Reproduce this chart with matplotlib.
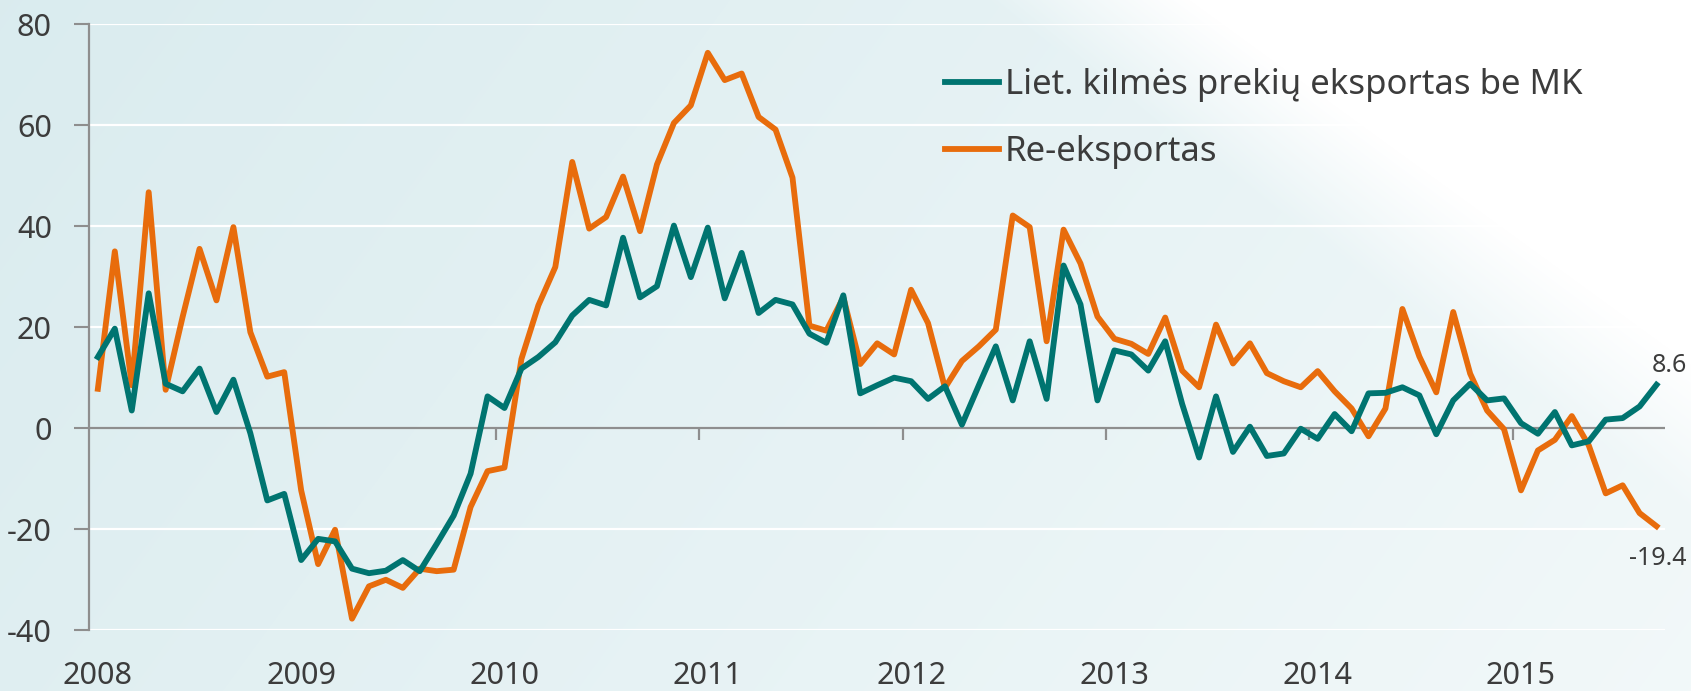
import numpy as np
import matplotlib
matplotlib.use("Agg")
import matplotlib.pyplot as plt

plt.rcParams['font.family'] = ['Noto Sans', 'DejaVu Sans']
plt.rcParams['axes.unicode_minus'] = False

# monthly data, 2008-01 .. 2015-09 (annual change, %)
lt_kilmes = [14.1, 19.7, 3.5, 26.7, 8.8, 7.3, 11.8, 3.2, 9.6, -1.0, -14.3, -13.0,
             -26.1, -21.9, -22.4, -27.8, -28.7, -28.2, -26.1, -28.3, -22.9, -17.3, -9.0, 6.3,
             4.0, 11.8, 14.1, 17.0, 22.3, 25.4, 24.3, 37.7, 25.9, 28.1, 40.1, 29.9,
             39.7, 25.7, 34.7, 22.8, 25.4, 24.5, 18.7, 16.9, 26.3, 6.9, 8.5, 10.0,
             9.3, 5.8, 8.3, 0.7, 8.5, 16.2, 5.5, 17.2, 5.8, 32.2, 24.5, 5.5,
             15.4, 14.6, 11.4, 17.2, 4.8, -5.8, 6.3, -4.7, 0.3, -5.5, -5.0, -0.1,
             -2.1, 2.8, -0.6, 6.9, 7.0, 8.1, 6.5, -1.2, 5.5, 8.8, 5.5, 5.9,
             1.0, -1.1, 3.2, -3.4, -2.6, 1.7, 2.0, 4.3, 8.6]
re_eksportas = [7.8, 35.0, 8.5, 46.7, 7.6, 22.0, 35.5, 25.3, 39.8, 19.0, 10.2, 11.1,
                -12.3, -26.9, -20.1, -37.7, -31.3, -30.0, -31.6, -27.8, -28.3, -28.0, -15.6, -8.5,
                -7.8, 13.7, 24.3, 31.9, 52.7, 39.5, 41.8, 49.8, 39.0, 52.2, 60.4, 63.9,
                74.3, 68.9, 70.2, 61.6, 59.1, 49.6, 20.3, 19.3, 25.9, 12.7, 16.8, 14.6,
                27.4, 20.8, 8.0, 13.3, 16.2, 19.5, 42.1, 39.8, 17.2, 39.3, 32.6, 22.1,
                17.7, 16.7, 14.7, 21.9, 11.4, 8.1, 20.5, 12.8, 16.8, 10.9, 9.3, 8.1,
                11.3, 7.3, 3.9, -1.6, 3.9, 23.6, 14.2, 7.1, 23.0, 10.8, 3.5, -0.2,
                -12.3, -4.4, -2.3, 2.4, -3.4, -12.9, -11.3, -16.8, -19.4]
metai = ['2008', '2009', '2010', '2011', '2012', '2013', '2014', '2015']
serijos = ['Liet. kilmės prekių eksportas be MK', 'Re-eksportas']

teal = '#007470'
orange = '#E86C0C'
txt = '#3c3c3c'
grey = '#8e8e8e'

W, H = 1691, 691
fig = plt.figure(figsize=(W / 100, H / 100), dpi=100)

# background: pale blue-green gradient fading to white on the right
bg = fig.add_axes([0, 0, 1, 1], zorder=-10)
yy, xx = np.mgrid[0:H, 0:W]
a = 1.0 - 0.5 * xx / W - 0.15 * yy / H
w = np.clip((xx - 1090 - 1.375 * yy) / 200 + 0.5, 0, 1)
a = np.clip(a * (1 - w), 0, 1)
blue = np.array([0.855, 0.925, 0.937])
img = 1 - a[..., None] * (1 - blue)
bg.imshow(img, aspect='auto', extent=[0, W, H, 0])
bg.axis('off')

ax = fig.add_axes([89.4 / W, 1 - 630.3 / H, (1665 - 89.4) / W, (630.3 - 24) / H])
ax.set_facecolor('none')

x = np.arange(len(lt_kilmes)) + 0.5
ax.plot(x, lt_kilmes, color=teal, lw=4.2, label=serijos[0], solid_joinstyle='round', zorder=4)
ax.plot(x, re_eksportas, color=orange, lw=4.2, label=serijos[1], solid_joinstyle='round', zorder=3)

ax.set_xlim(0, len(lt_kilmes))
ax.set_ylim(-40, 80)
ax.set_yticks(np.arange(-40, 81, 20))
ax.yaxis.grid(True, color='white', lw=1.6, zorder=0)
ax.set_axisbelow(True)
ax.axhline(0, color=grey, lw=1.6, zorder=2)

# year ticks on the zero line
yrs = np.arange(len(metai)) * 12
ax.vlines(yrs[1:], -2.3, 0, color=grey, lw=1.6, zorder=2)

ax.set_xticks(yrs + 0.5)
ax.set_xticklabels(metai)
ax.tick_params(axis='x', length=0, pad=22, labelsize=22, labelcolor=txt)
ax.tick_params(axis='y', length=11, width=1.5, color=grey, pad=16, labelsize=22, labelcolor=txt,
               direction='out')

for s in ['top', 'right', 'bottom']:
    ax.spines[s].set_visible(False)
ax.spines['left'].set_color(grey)
ax.spines['left'].set_linewidth(1.6)

leg = ax.legend(loc='upper left', bbox_to_anchor=(945 / W, 1 - 68 / H), bbox_transform=fig.transFigure,
                frameon=False, fontsize=25, handlelength=1.55, handletextpad=0.17, labelspacing=0.95,
                borderpad=0, borderaxespad=0)
for t in leg.get_texts():
    t.set_color(txt)
for l in leg.get_lines():
    l.set_linewidth(4.2)

ax.annotate(f'{lt_kilmes[-1]:.1f}', xy=(x[-1], lt_kilmes[-1]), xytext=(9, 14), textcoords='offset points',
            ha='center', va='center', fontsize=18, color=txt, annotation_clip=False)
ax.annotate(f'{re_eksportas[-1]:.1f}', xy=(x[-1], re_eksportas[-1]), xytext=(1, -23), textcoords='offset points',
            ha='center', va='center', fontsize=18, color=txt, annotation_clip=False)

fig.savefig('out.png', dpi=100)
